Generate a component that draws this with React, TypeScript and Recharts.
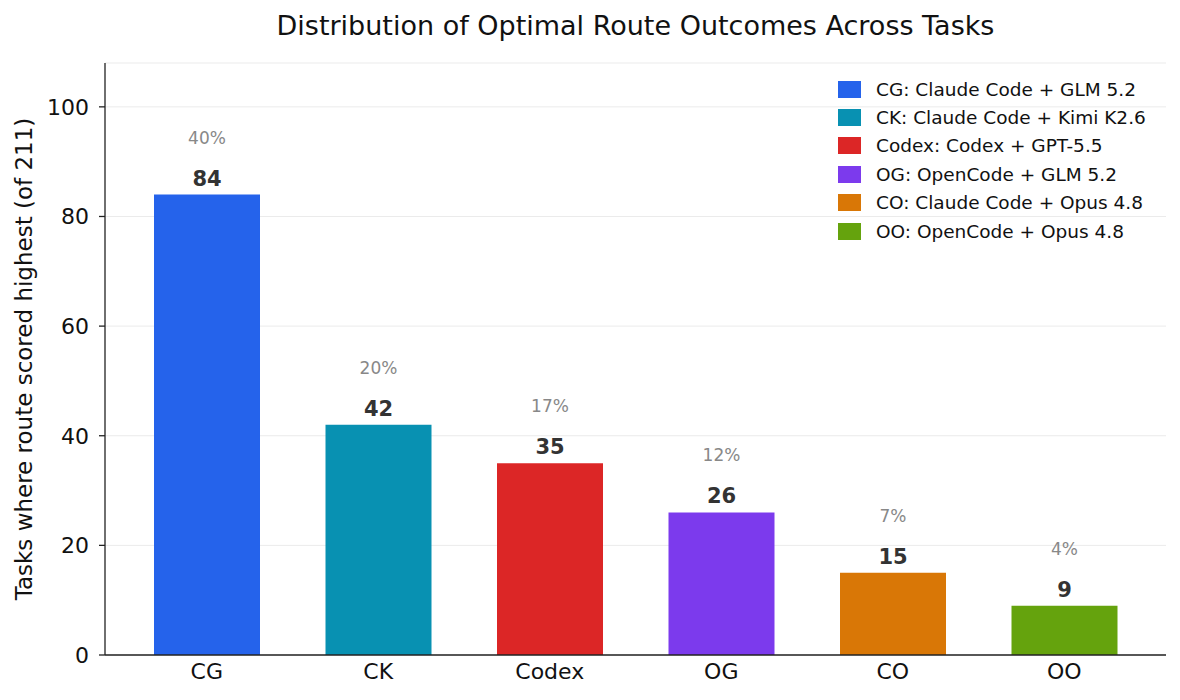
import { Bar, BarChart, CartesianGrid, Cell, LabelList, XAxis, YAxis } from "recharts";

const routes = ["CG", "CK", "Codex", "OG", "CO", "OO"];
const routeNames = [
  "CG: Claude Code + GLM 5.2",
  "CK: Claude Code + Kimi K2.6",
  "Codex: Codex + GPT-5.5",
  "OG: OpenCode + GLM 5.2",
  "CO: Claude Code + Opus 4.8",
  "OO: OpenCode + Opus 4.8",
];
const wins = [84, 42, 35, 26, 15, 9];
const shares = ["40%", "20%", "17%", "12%", "7%", "4%"];
const colors = ["#2563eb", "#0891b2", "#dc2626", "#7c3aed", "#d97706", "#65a30d"];
const yTicks = [0, 20, 40, 60, 80, 100];

const data = routes.map((r, i) => ({ route: r, wins: wins[i], share: shares[i] }));

const font = "'DejaVu Sans', sans-serif";

function BarLabel(props: any) {
  const { x, y, width, index } = props;
  const cx = x + width / 2;
  return (
    <g>
      <text x={cx} y={y - 51} textAnchor="middle" fontSize={17} fill="#888" fontFamily={font}>
        {shares[index]}
      </text>
      <text x={cx} y={y - 9} textAnchor="middle" fontSize={21} fontWeight="bold" fill="#333" fontFamily={font}>
        {wins[index]}
      </text>
    </g>
  );
}

function RouteLegend() {
  return (
    <div style={{ position: "absolute", top: 75, left: 838, fontFamily: font, fontSize: 18.5, color: "#111" }}>
      {routeNames.map((name, i) => (
        <div key={name} style={{ display: "flex", alignItems: "center", height: 28.4, whiteSpace: "nowrap" }}>
          <span style={{ width: 23, height: 17, background: colors[i], marginRight: 15, display: "inline-block" }} />
          {name}
        </div>
      ))}
    </div>
  );
}

export default function App() {
  return (
    <div style={{ position: "absolute", left: 0, top: 0, width: 1180, height: 700, background: "#fff" }}>
      <BarChart width={1180} height={700} data={data} margin={{ top: 63, right: 14, bottom: 15, left: 0 }}>
        <CartesianGrid stroke="#ebebeb" vertical={false} />
        <XAxis
          dataKey="route"
          height={30}
          padding={{ left: 16, right: 16 }}
          tick={{ fill: "#111", fontSize: 22, fontFamily: font }}
          tickLine={false}
          axisLine={{ stroke: "#222", strokeWidth: 1.3 }}
          tickSize={0}
          tickMargin={8}
        />
        <YAxis
          domain={[0, 108]}
          ticks={yTicks}
          width={105}
          tick={{ fill: "#111", fontSize: 22, fontFamily: font }}
          tickLine={{ stroke: "#222", strokeWidth: 1.3 }}
          axisLine={{ stroke: "#222", strokeWidth: 1.3 }}
          tickSize={6}
          tickMargin={10}
          label={{
            value: "Tasks where route scored highest (of 211)",
            angle: -90,
            position: "insideLeft",
            offset: 24,
            style: { textAnchor: "middle", fontSize: 23, fill: "#111", fontFamily: font },
          }}
        />
        <Bar dataKey="wins" barSize={106} isAnimationActive={false}>
          {data.map((d, i) => (
            <Cell key={d.route} fill={colors[i]} />
          ))}
          <LabelList dataKey="wins" content={<BarLabel />} />
        </Bar>
      </BarChart>
      <div
        style={{
          position: "absolute",
          top: 12,
          left: 105,
          width: 1061,
          lineHeight: "28px",
          textAlign: "center",
          fontFamily: font,
          fontSize: 27,
          color: "#111",
        }}
      >
        Distribution of Optimal Route Outcomes Across Tasks
      </div>
      <RouteLegend />
    </div>
  );
}
